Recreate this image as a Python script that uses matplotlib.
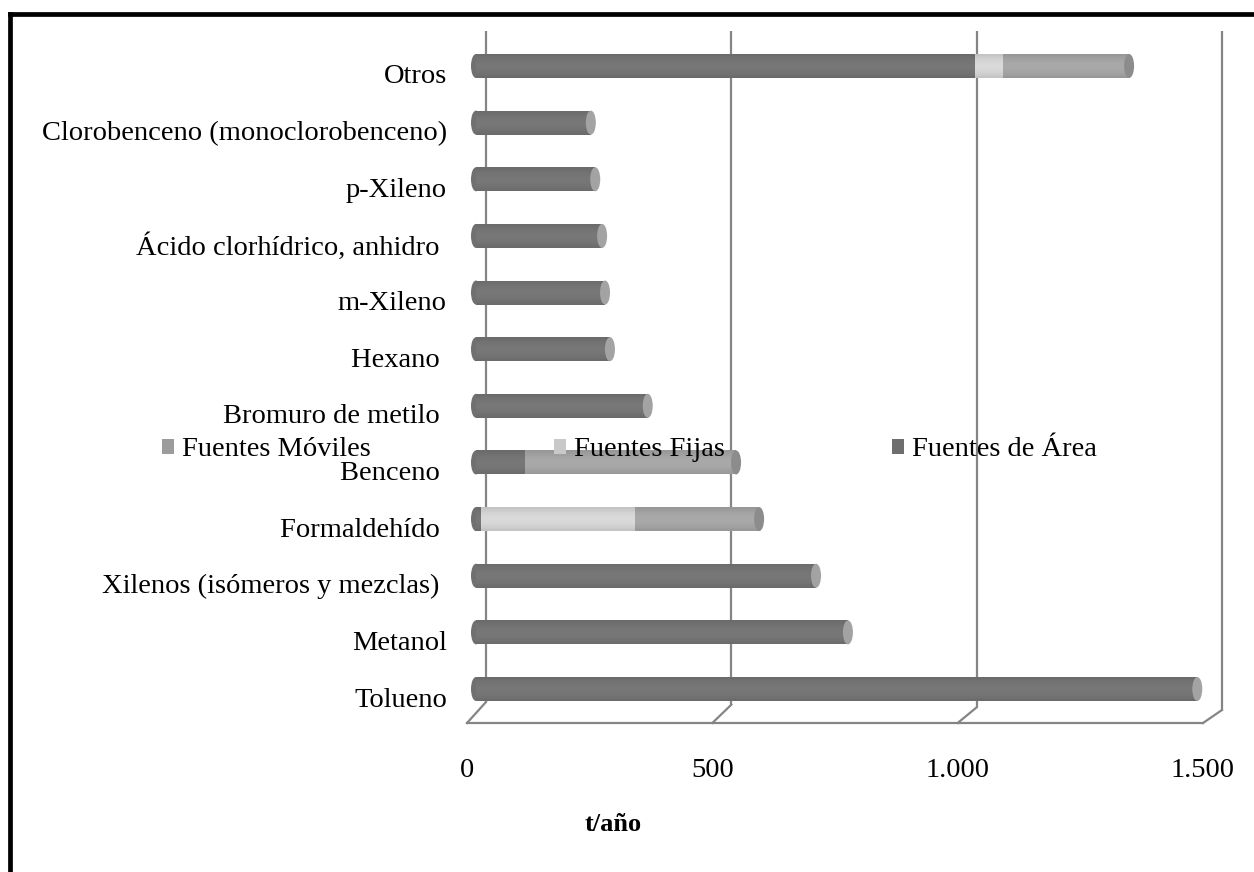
import numpy as np
import matplotlib.pyplot as plt
from matplotlib.patches import Ellipse, Patch
from matplotlib.lines import Line2D
from matplotlib.transforms import ScaledTranslation

plt.rcParams['font.family'] = ['Liberation Serif', 'DejaVu Serif']

# Emisiones por contaminante (t/año), de abajo hacia arriba
categorias = ['Tolueno', 'Metanol', 'Xilenos (isómeros y mezclas) ', 'Formaldehído ',
              'Benceno ', 'Bromuro de metilo ', 'Hexano ', 'm-Xileno',
              'Ácido clorhídrico, anhidro ', 'p-Xileno', 'Clorobenceno (monoclorobenceno)',
              'Otros']
fuentes_area = [1470, 758, 693, 10, 100, 350, 273, 263, 257, 243, 234, 1017]
fuentes_fijas = [0, 0, 0, 314, 0, 0, 0, 0, 0, 0, 0, 57]
fuentes_moviles = [0, 0, 0, 253, 430, 0, 0, 0, 0, 0, 0, 257]
ticks = [0, 500, 1000, 1500]
tick_labels = ['0', '500', '1.000', '1.500']

col_area = '#6e6e6e'
col_fijas = '#c9c9c9'
col_moviles = '#9c9c9c'
cap_area = '#a3a3a3'
cap_moviles = '#8c8c8c'

W, H = 1254, 872
fs = 20.5
fig = plt.figure(figsize=(W / 100, H / 100), dpi=100)

# ejes: 0 -> x=476 px, 1500 -> x=1212 px; categoría 0 en y=689, 11 en y=66
px_per_unit = 736 / 1500
row = (689 - 66) / 11
y_top_px = 66 - row / 2
y_bot_px = 689 + row / 2
ax = fig.add_axes([476 / W, (H - y_bot_px) / H, 736 / W, (y_bot_px - y_top_px) / H])
ax.set_xlim(0, 1500)
ax.set_ylim(-0.5, 11.5)
for s in ax.spines.values():
    s.set_visible(False)

dx = 1 / px_per_unit  # unidades de datos por pixel en x
dy = 1 / row          # unidades de datos por pixel en y

# pared del fondo y piso en perspectiva
grid_col = '#858585'
for v in ticks:
    f = v / 1500
    yb = -(702 + 8 * f - 689) * dy
    yf = -(723 - 689) * dy
    ax.plot([v + 10 * dx, v + 10 * dx], [(689 - 31) * dy, yb], color=grid_col, lw=1.6,
            clip_on=False, zorder=1, solid_capstyle='butt')
    ax.plot([v + 10 * dx, v - 9 * dx], [yb, yf], color=grid_col, lw=1.6, clip_on=False, zorder=1)
ax.plot([-9 * dx, 1500 - 9 * dx], [-(723 - 689) * dy] * 2, color=grid_col, lw=1.6,
        clip_on=False, zorder=1)

bar_h = 24 / row
cap_w = 10 * dx
n_slices = 14


def shade(color, k):
    c = np.array(plt.matplotlib.colors.to_rgb(color))
    return np.clip(c * k, 0, 1)


y = np.arange(len(categorias))
series = [(fuentes_area, col_area), (fuentes_fijas, col_fijas), (fuentes_moviles, col_moviles)]
for i in y:
    # extremo izquierdo redondeado
    ax.add_patch(Ellipse((0, i), cap_w, bar_h, facecolor=shade(col_area, 1.02), linewidth=0,
                         zorder=2, clip_on=False))
    left = 0
    last = None
    for vals, col in series:
        w = vals[i]
        if w <= 0:
            continue
        for k in range(n_slices):
            t = (k + 0.5) / n_slices
            fac = 0.86 + 0.22 * np.sin(np.pi * (0.15 + 0.7 * t))
            ax.barh(i - bar_h / 2 + k * bar_h / n_slices, w, left=left,
                    height=bar_h / n_slices, color=shade(col, fac), align='edge',
                    linewidth=0, zorder=3)
        left += w
        last = col
    cap = cap_moviles if last == col_moviles else cap_area
    ax.add_patch(Ellipse((left, i), cap_w, bar_h, facecolor=cap, linewidth=0, zorder=4,
                         clip_on=False))

ax.set_yticks(y)
ax.set_yticklabels(categorias, fontsize=fs)
ax.set_xticks(ticks)
ax.set_xticklabels(tick_labels, fontsize=fs)
ax.tick_params(axis='y', length=0, pad=21)
ax.tick_params(axis='x', length=0, pad=29)
for lab in ax.get_yticklabels():
    lab.set_transform(lab.get_transform() + ScaledTranslation(0, -8 / 100, fig.dpi_scale_trans))
for lab in ax.get_xticklabels():
    lab.set_transform(lab.get_transform() + ScaledTranslation(-9 / 100, 0, fig.dpi_scale_trans))

fig.text(613 / W, 1 - 824 / H, 't/año', fontsize=19, fontweight='bold', ha='center', va='center')

# leyenda
for lbl, col, xpx in [('Fuentes Móviles', col_moviles, 162),
                      ('Fuentes Fijas', col_fijas, 554),
                      ('Fuentes de Área', col_area, 892)]:
    fig.legend(handles=[Patch(facecolor=col, edgecolor='none', label=lbl)], loc='center left',
               bbox_to_anchor=(xpx / W, 1 - 450 / H), frameon=False, fontsize=fs,
               handlelength=0.42, handleheight=0.42, handletextpad=0.3, borderpad=0,
               borderaxespad=0)

# marco
fig.add_artist(Line2D([10 / W, 1], [1 - 14 / H, 1 - 14 / H], color='black', lw=3.4,
                      transform=fig.transFigure))
fig.add_artist(Line2D([10 / W, 10 / W], [0, 1 - 14 / H], color='black', lw=3.4,
                      transform=fig.transFigure))

fig.savefig('out.png', dpi=100)
